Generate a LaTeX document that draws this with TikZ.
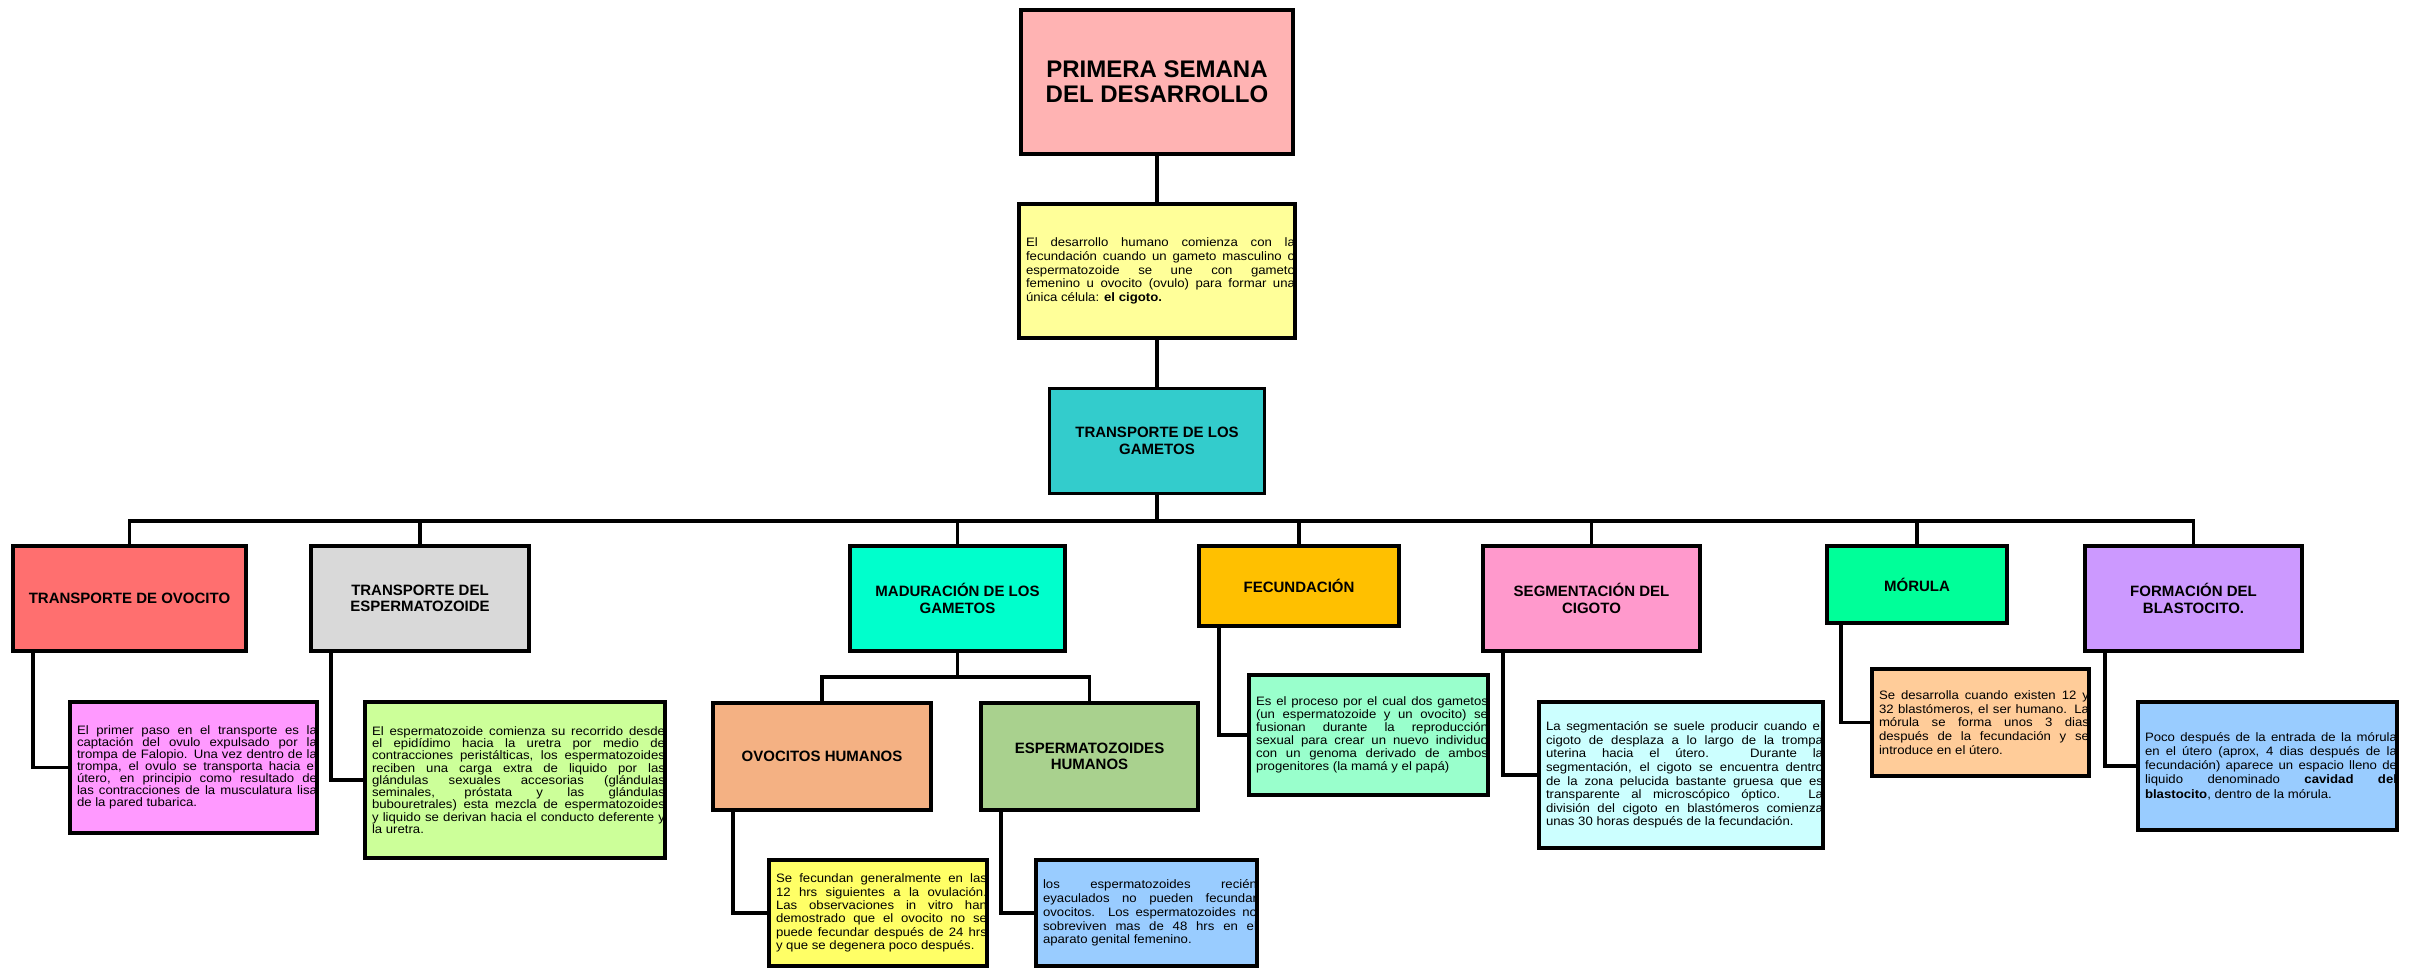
\documentclass[tikz,border=0pt]{standalone}
\usepackage{fontspec}
\setmainfont{Liberation Sans}
\newfontfamily\notefont{Liberation Sans}[FakeStretch=1.08]
\tolerance=10000
\hyphenpenalty=10000
\exhyphenpenalty=10000

\definecolor{titlepink}{HTML}{FFB3B3}
\definecolor{introyellow}{HTML}{FFFF99}
\definecolor{gamcyan}{HTML}{33CCCC}
\definecolor{ovored}{HTML}{FF6F6F}
\definecolor{espgray}{HTML}{D9D9D9}
\definecolor{madteal}{HTML}{00FFCC}
\definecolor{fecgold}{HTML}{FFC000}
\definecolor{segpink}{HTML}{FF99CC}
\definecolor{morgreen}{HTML}{00FF99}
\definecolor{blalilac}{HTML}{CC99FF}
\definecolor{ovhpeach}{HTML}{F4B183}
\definecolor{esphgreen}{HTML}{A9D18E}
\definecolor{ovonote}{HTML}{FF99FF}
\definecolor{espnote}{HTML}{CCFF99}
\definecolor{ovhnote}{HTML}{FFFF66}
\definecolor{esphnote}{HTML}{99CCFF}
\definecolor{fecnote}{HTML}{99FFCC}
\definecolor{segnote}{HTML}{CCFFFF}
\definecolor{mornote}{HTML}{FFCC99}
\definecolor{blanote}{HTML}{99CCFF}

\begin{document}
\begin{tikzpicture}[x=1pt, y=-1pt,
    box/.style={draw, line width=3.6pt, inner sep=0pt},
    headbox/.style={box, align=center, font=\bfseries\fontsize{15}{16.5}\selectfont},
    notebox/.style={box, inner xsep=0pt, align=justify, execute at begin node={\leftskip=7pt},
        font=\notefont\fontsize{12.2}{#1}\selectfont},
    notebox/.default=13.6,
    link/.style={line width=3.6pt}]
    \path[use as bounding box, fill=white] (0,0) rectangle (2425,969);

    \node[box, fill=titlepink, minimum width=272pt, minimum height=144pt, align=center,
        font=\bfseries\fontsize{24}{25}\selectfont] (title) at (1157,82) {PRIMERA SEMANA\\DEL DESARROLLO};
    \node[notebox=13.7, fill=introyellow, text width=276pt, minimum height=134pt] (intro) at (1157,271)
        {El desarrollo humano comienza con la\linebreak fecundación cuando un gameto masculino o\linebreak espermatozoide se une con gameto\linebreak femenino u ovocito (ovulo) para formar una\linebreak única célula: \textbf{el cigoto.}};
    \node[headbox, fill=gamcyan, minimum width=215pt, minimum height=105pt] (gam) at (1157,441) {TRANSPORTE DE LOS\\GAMETOS};

    % second row
    \node[headbox, fill=ovored, minimum width=233pt, minimum height=105pt] (ovo) at (129.5,598.5) {TRANSPORTE DE OVOCITO};
    \node[headbox, fill=espgray, minimum width=218pt, minimum height=105pt] (esp) at (420,598.5) {TRANSPORTE DEL\\ESPERMATOZOIDE};
    \node[headbox, fill=madteal, minimum width=215pt, minimum height=105pt] (mad) at (957.5,598.5) {MADURACIÓN DE LOS\\GAMETOS};
    \node[headbox, fill=fecgold, minimum width=200pt, minimum height=80pt] (fec) at (1299,586) {FECUNDACIÓN};
    \node[headbox, fill=segpink, minimum width=217pt, minimum height=105pt] (seg) at (1591.5,598.5) {SEGMENTACIÓN DEL\\CIGOTO};
    \node[headbox, fill=morgreen, minimum width=180pt, minimum height=77pt] (mor) at (1917,584.5) {MÓRULA};
    \node[headbox, fill=blalilac, minimum width=217pt, minimum height=105pt] (bla) at (2193.5,598.5) {FORMACIÓN DEL\\BLASTOCITO.};

    % gametes
    \node[headbox, fill=ovhpeach, minimum width=218pt, minimum height=107pt] (ovh) at (822,756.5) {OVOCITOS HUMANOS};
    \node[headbox, fill=esphgreen, minimum width=217pt, minimum height=107pt] (esph) at (1089.5,756.5) {ESPERMATOZOIDES\\HUMANOS};

    % notes
    \node[notebox=12.1, fill=ovonote, text width=247pt, minimum height=131pt] (ovonotebox) at (193.5,767.5)
        {El primer paso en el transporte es la\linebreak captación del ovulo expulsado por la\linebreak trompa de Falopio. Una vez dentro de la\linebreak trompa, el ovulo se transporta hacia el\linebreak útero, en principio como resultado de\linebreak las contracciones de la musculatura lisa\linebreak de la pared tubarica.};
    \node[notebox=12.3, fill=espnote, text width=300pt, minimum height=156pt] (espnotebox) at (515,780)
        {El espermatozoide comienza su recorrido desde\linebreak el epidídimo hacia la uretra por medio de\linebreak contracciones peristálticas, los espermatozoides\linebreak reciben una carga extra de liquido por las\linebreak glándulas sexuales accesorias (glándulas\linebreak seminales, próstata y las glándulas\linebreak bubouretrales) esta mezcla de espermatozoides\linebreak y liquido se derivan hacia el conducto deferente y\linebreak la uretra.};
    \node[notebox=13.3, fill=ovhnote, text width=218pt, minimum height=106pt] (ovhnotebox) at (878,913)
        {Se fecundan generalmente en las\linebreak 12 hrs siguientes a la ovulación.\linebreak Las observaciones in vitro han\linebreak demostrado que el ovocito no se\linebreak puede fecundar después de 24 hrs\linebreak y que se degenera poco después.};
    \node[notebox=13.8, fill=esphnote, text width=221pt, minimum height=106pt] (esphnotebox) at (1146.5,913)
        {los espermatozoides recién\linebreak eyaculados no pueden fecundar\linebreak ovocitos. Los espermatozoides no\linebreak sobreviven mas de 48 hrs en el\linebreak aparato genital femenino.};
    \node[notebox=13, fill=fecnote, text width=239pt, minimum height=120pt] (fecnotebox) at (1368.5,735)
        {Es el proceso por el cual dos gametos\linebreak (un espermatozoide y un ovocito) se\linebreak fusionan durante la reproducción\linebreak sexual para crear un nuevo individuo\linebreak con un genoma derivado de ambos\linebreak progenitores (la mamá y el papá)};
    \node[notebox=13.6, fill=segnote, text width=284pt, minimum height=146pt] (segnotebox) at (1681,775)
        {La segmentación se suele producir cuando el\linebreak cigoto de desplaza a lo largo de la trompa\linebreak uterina hacia el útero. Durante la\linebreak segmentación, el cigoto se encuentra dentro\linebreak de la zona pelucida bastante gruesa que es\linebreak transparente al microscópico óptico. La\linebreak división del cigoto en blastómeros comienza\linebreak unas 30 horas después de la fecundación.};
    \node[notebox=13.8, fill=mornote, text width=217pt, minimum height=107pt] (mornotebox) at (1980.5,722.5)
        {Se desarrolla cuando existen 12 y\linebreak 32 blastómeros, el ser humano. La\linebreak mórula se forma unos 3 dias\linebreak después de la fecundación y se\linebreak introduce en el útero.};
    \node[notebox=14.2, fill=blanote, text width=259pt, minimum height=128pt] (blanotebox) at (2267.5,766)
        {Poco después de la entrada de la mórula\linebreak en el útero (aprox, 4 dias después de la\linebreak fecundación) aparece un espacio lleno de\linebreak liquido denominado \textbf{cavidad del}\linebreak \textbf{blastocito}, dentro de la mórula.};

    % connectors
    \coordinate (bus) at (1157,521);
    \coordinate (madbus) at (957.5,677);
    \draw[link] (title) -- (intro);
    \draw[link] (intro) -- (gam);
    \draw[link] (gam) -- (bus) -| (ovo) (bus) -| (esp) (bus) -| (mad) (bus) -| (fec)
        (bus) -| (seg) (bus) -| (mor) (bus) -| (bla);
    \draw[link] (mad) -- (madbus) -| (ovh) (madbus) -| (esph);

    \draw[link] ([xshift=22pt]ovo.south west) |- (ovonotebox);
    \draw[link] ([xshift=22pt]esp.south west) |- (espnotebox);
    \draw[link] ([xshift=22pt]ovh.south west) |- (ovhnotebox);
    \draw[link] ([xshift=22pt]esph.south west) |- (esphnotebox);
    \draw[link] ([xshift=22pt]fec.south west) |- (fecnotebox);
    \draw[link] ([xshift=22pt]seg.south west) |- (segnotebox);
    \draw[link] ([xshift=16pt]mor.south west) |- (mornotebox);
    \draw[link] ([xshift=22pt]bla.south west) |- (blanotebox);
\end{tikzpicture}
\end{document}
